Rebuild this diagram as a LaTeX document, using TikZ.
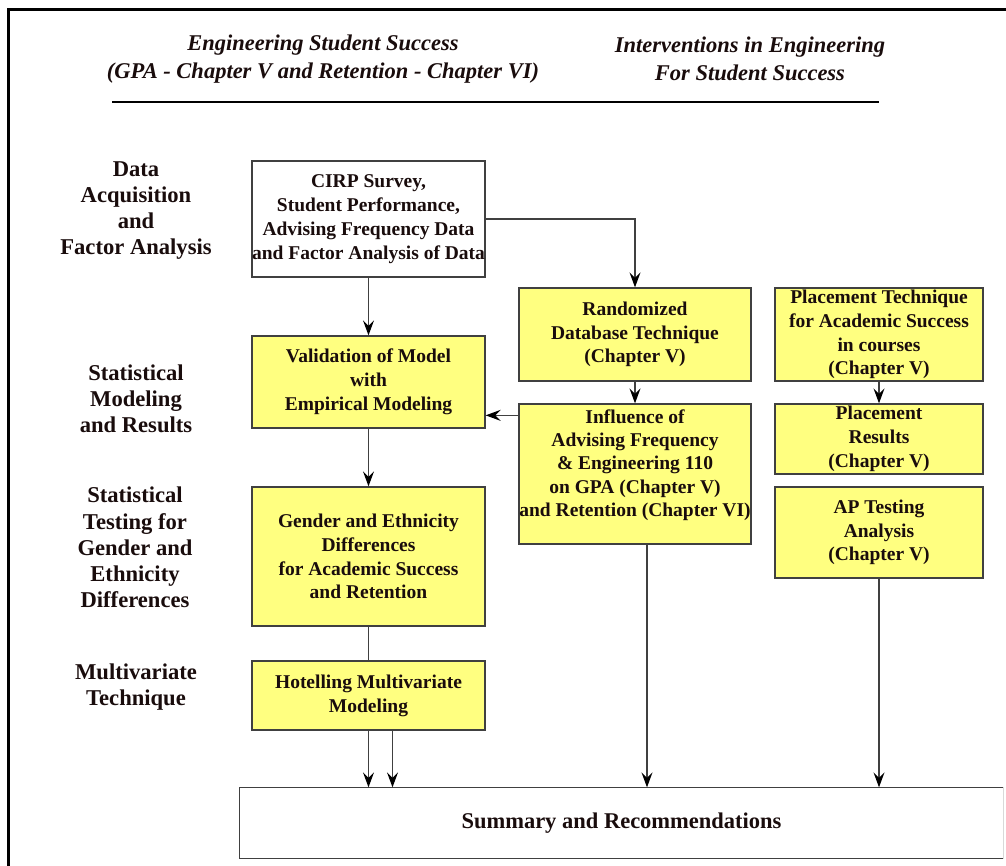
\documentclass[tikz,border=0pt]{standalone}
\usepackage{fontspec}
\setmainfont{Liberation Serif}
\usetikzlibrary{arrows.meta}
\definecolor{boxyellow}{RGB}{255,255,128}
\definecolor{edgegray}{RGB}{64,64,64}
\definecolor{inkdark}{RGB}{25,12,12}
\begin{document}
\begin{tikzpicture}[x=1pt,y=-1pt,
  box/.style={draw=edgegray, line width=1.3pt, inner sep=0pt, align=center,
    font=\fontsize{19.5}{23.8}\selectfont\bfseries, text=inkdark},
  ybox/.style={box, fill=boxyellow},
  wbox/.style={box, fill=white},
  boxtext/.style={inner sep=0pt, align=center,
    font=\fontsize{19.5}{23.3}\selectfont\bfseries, text=inkdark},
  side/.style={align=center, font=\fontsize{22.6}{26.2}\selectfont\bfseries, text=inkdark},
  head/.style={align=center, font=\fontsize{22.5}{28}\selectfont\bfseries\itshape, text=inkdark},
  conn/.style={draw=edgegray, line width=1.4pt},
  arr/.style={conn, -{Stealth[length=15pt,width=11pt,inset=5.5pt,color=black]}}
]
\useasboundingbox (0,0) rectangle (1006,865);
\fill[white] (0,0) rectangle (1006,865);

% page frame (left and top edges)
\draw[line width=3pt, line cap=rect] (8,865) -- (8,9) -- (1006,9);

% column headings
\node[head] (headL) at (323,59) {Engineering Student Success\\(GPA - Chapter V and Retention - Chapter VI)};
\node[head] (headR) at (750,59) {Interventions in Engineering\\For Student Success};
\draw[line width=2pt] (112,102) -- (879,102);

% stage labels
\node[side] (lab1) at (136,210.5) {Data\\Acquisition\\and\\Factor Analysis};
\node[side] (lab2) at (136,399) {Statistical\\Modeling\\and Results};
\node[side] (lab3) at (135,547.5) {Statistical\\Testing for\\Gender and\\Ethnicity\\Differences};
\node[side] (lab4) at (136,687) {Multivariate\\Technique};

% left column
\node[wbox, minimum width=233pt, minimum height=116pt] (cirp) at (368.5,219)
  {CIRP Survey,\\Student Performance,\\Advising Frequency Data\\and Factor Analysis of Data};
\node[ybox, minimum width=233pt, minimum height=92pt] (valid) at (368.5,382)
  {Validation of Model\\with\\Empirical Modeling};
\node[ybox, minimum width=233pt, minimum height=139pt] (gender) at (368.5,556.5)
  {Gender and Ethnicity\\Differences\\for Academic Success\\and Retention};
\node[ybox, minimum width=233pt, minimum height=69pt] (hotel) at (368.5,695.5)
  {Hotelling Multivariate\\Modeling};

% middle column
\node[ybox, minimum width=232pt, minimum height=93pt] (rand) at (635,334.5)
  {Randomized\\Database Technique\\(Chapter V)};
\node[ybox, minimum width=232pt, minimum height=140pt] (infl) at (635,474) {};
\node[boxtext] (infltext) at (635,465)
  {Influence of\\Advising Frequency\\\& Engineering 110\\on GPA (Chapter V)\\and Retention (Chapter VI)};

% right column
\node[ybox, minimum width=208pt, minimum height=93pt] (place) at (879,334.5)
  {Placement Technique\\for Academic Success\\in courses\\(Chapter V)};
\node[ybox, minimum width=208pt, minimum height=70pt] (presult) at (879,439)
  {Placement\\Results\\(Chapter V)};
\node[ybox, minimum width=208pt, minimum height=91pt] (ap) at (879,532.5)
  {AP Testing\\Analysis\\(Chapter V)};

% summary
\node[box, draw=none, fill=white, minimum width=763pt, minimum height=70pt,
  font=\fontsize{22.5}{26}\selectfont\bfseries] (summary) at (621.5,823)
  {Summary and Recommendations};
\draw[edgegray, line width=1.3pt] (summary.north east) -- (summary.north west)
  -- (summary.south west) -- (summary.south east);
\draw[black!15, line width=1pt] (summary.north east) -- (summary.south east);

% connectors
\draw[arr] (cirp.south) -- (valid.north);
\draw[arr] (valid.south) -- (gender.north);
\draw[conn] (gender.south) -- (hotel.north);
\draw[arr] (hotel.south) -- (hotel.south |- summary.north);
\coordinate (hotelR) at ([xshift=24pt]hotel.south);
\draw[arr] (hotelR) -- (hotelR |- summary.north);

\draw[arr] (cirp.east) -| (rand.north);
\draw[arr] (rand.south) -- (infl.north);
\coordinate (inflL) at ([yshift=-12pt]infl.north west);
\draw[arr] (inflL) -- (inflL -| valid.east);
\coordinate (inflB) at ([xshift=12pt]infl.south);
\draw[arr] (inflB) -- (inflB |- summary.north);

\draw[arr] (place.south) -- (presult.north);
\draw[arr] (ap.south) -- (ap.south |- summary.north);
\end{tikzpicture}
\end{document}
